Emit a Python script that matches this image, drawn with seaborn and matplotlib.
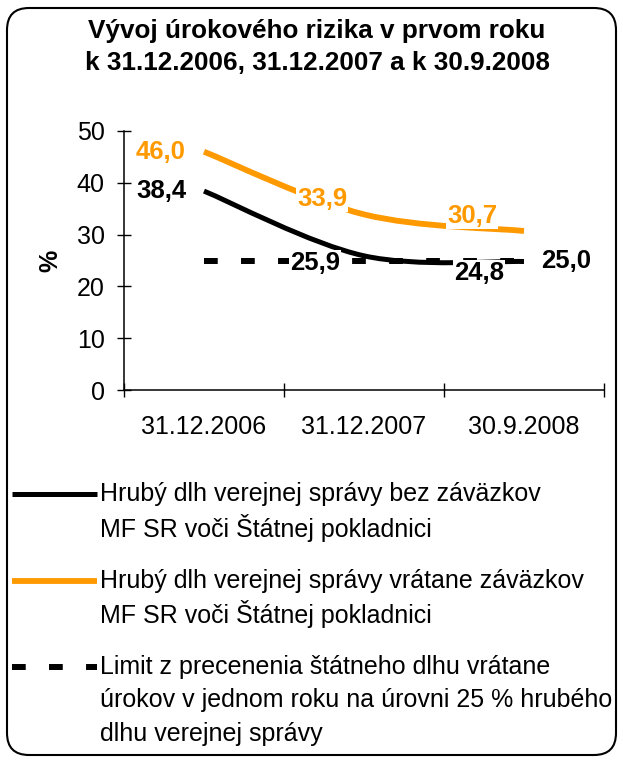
#!/usr/bin/python

# System imports
import numpy as np
import pandas as pd
import seaborn as sns
import matplotlib
matplotlib.use('Agg')
import matplotlib.pyplot as plt
from matplotlib.path import Path
from matplotlib.patches import PathPatch, FancyBboxPatch
from matplotlib.lines import Line2D

# Data
DATES = ['31.12.2006', '31.12.2007', '30.9.2008']
DEBT_EXCL = [38.4, 25.9, 24.8]
DEBT_INCL = [46.0, 33.9, 30.7]
LIMIT = [25.0, 25.0, 25.0]

TITLE = 'Vývoj úrokového rizika v prvom roku\nk 31.12.2006, 31.12.2007 a k 30.9.2008'
LEGEND_EXCL = ['Hrubý dlh verejnej správy bez záväzkov', 'MF SR voči Štátnej pokladnici']
LEGEND_INCL = ['Hrubý dlh verejnej správy vrátane záväzkov', 'MF SR voči Štátnej pokladnici']
LEGEND_LIMIT = ['Limit z precenenia štátneho dlhu vrátane',
                'úrokov v jednom roku na úrovni 25 % hrubého',
                'dlhu verejnej správy']

ORANGE = '#FF9900'
BLACK = '#000000'

W, H = 623, 762

# label offsets (pixels) for each point
OFF_EXCL = [(-18, 0), (-24, -7), (-20, -11)]
OFF_INCL = [(-18, 0), (-17, 15), (-27, 15)]
OFF_LIMIT = (17, 0)
DASHES = [2.3, 3.9]


def fx(px):
    return px / W


def fy(py):
    return 1.0 - py / H


def smooth_path(xs, ys):
    """Excel-like smoothed line as a cubic bezier path through the points."""
    pts = np.column_stack([xs, ys]).astype(float)
    n = len(pts)
    verts = [pts[0]]
    codes = [Path.MOVETO]
    for i in range(n - 1):
        p_prev = pts[max(i - 1, 0)]
        p0 = pts[i]
        p1 = pts[i + 1]
        p_next = pts[min(i + 2, n - 1)]
        verts += [p0 + (p1 - p_prev) / 6.0, p1 - (p_next - p0) / 6.0, p1]
        codes += [Path.CURVE4] * 3
    return Path(verts, codes)


def fmt(v):
    return ('%.1f' % v).replace('.', ',')


sns.set_style('white')
plt.rcParams['font.family'] = ['Liberation Sans', 'DejaVu Sans']
plt.rcParams['text.color'] = BLACK
plt.rcParams['axes.labelcolor'] = BLACK
plt.rcParams['xtick.color'] = BLACK
plt.rcParams['ytick.color'] = BLACK

fig = plt.figure(figsize=(W / 100.0, H / 100.0), dpi=100)
ax = fig.add_axes([fx(124), fy(390), fx(604) - fx(124), fy(131) - fy(390)])

x = np.arange(len(DATES))

# Limit line
df = pd.DataFrame({'x': x, 'limit': LIMIT})
sns.lineplot(data=df, x='x', y='limit', ax=ax, color=BLACK, lw=4.3, zorder=2)
ax.lines[-1].set_dashes(DASHES)
ax.lines[-1].set_dash_capstyle('butt')

# Smoothed series
ax.add_patch(PathPatch(smooth_path(x, DEBT_EXCL), fill=False, ec=BLACK, lw=3.6,
                       capstyle='butt', zorder=3))
ax.add_patch(PathPatch(smooth_path(x, DEBT_INCL), fill=False, ec=ORANGE, lw=4.2,
                       capstyle='butt', zorder=4))

# Data labels
bbox = dict(fc='white', ec='none', pad=0.5)
for i, v in enumerate(DEBT_EXCL):
    ax.annotate(fmt(v), xy=(x[i], v), xytext=OFF_EXCL[i], textcoords='offset pixels',
                ha='right', va='center', fontsize=18.5, fontweight='bold', color=BLACK,
                bbox=bbox, zorder=6)
for i, v in enumerate(DEBT_INCL):
    ax.annotate(fmt(v), xy=(x[i], v), xytext=OFF_INCL[i], textcoords='offset pixels',
                ha='right', va='center', fontsize=18.5, fontweight='bold', color=ORANGE,
                bbox=bbox, zorder=6)
ax.annotate(fmt(LIMIT[-1]), xy=(x[-1], LIMIT[-1]), xytext=OFF_LIMIT, textcoords='offset pixels',
            ha='left', va='center', fontsize=18.5, fontweight='bold', color=BLACK, zorder=6)

# Axes
ax.set_xlim(-0.5, len(DATES) - 0.5)
ax.set_ylim(0, 50)
ax.set_yticks(np.arange(0, 51, 10))
ax.set_xticks(np.arange(-0.5, len(DATES), 1.0))
ax.set_xticklabels([])
ax.set_xticks(x, minor=True)
ax.set_xticklabels(DATES, minor=True)
ax.tick_params(axis='both', which='major', direction='inout', length=10, width=1.0,
               color=BLACK, labelsize=18, labelcolor=BLACK, left=True, bottom=True)
ax.tick_params(axis='y', pad=9)
ax.tick_params(axis='x', which='minor', length=0, pad=18, labelsize=18,
               labelcolor=BLACK, bottom=True)
ax.set_xlabel('')
ax.set_ylabel('%', fontsize=18, fontweight='bold', labelpad=10)
for s in ['top', 'right']:
    ax.spines[s].set_visible(False)
for s in ['left', 'bottom']:
    ax.spines[s].set_color(BLACK)
    ax.spines[s].set_linewidth(1.1)
ax.patch.set_alpha(0)

# Title
fig.text(fx(317), fy(47), TITLE, ha='center', va='center', fontsize=18.8,
         fontweight='bold', linespacing=1.4)

# Legend (drawn by hand, handle on first text line)
entries = [
    (LEGEND_EXCL, 494, BLACK, 3.6, None),
    (LEGEND_INCL, 581, ORANGE, 4.2, None),
    (LEGEND_LIMIT, 667, BLACK, 4.3, DASHES),
]
for lines, y0, color, lw, dashes in entries:
    ln = Line2D([fx(12), fx(97)], [fy(y0), fy(y0)], transform=fig.transFigure,
                color=color, lw=lw, solid_capstyle='butt', dash_capstyle='butt')
    if dashes:
        ln.set_dashes(dashes)
    fig.add_artist(ln)
    for k, t in enumerate(lines):
        fig.text(fx(100), fy(y0 + 33.5 * k), t, ha='left', va='center', fontsize=18.0)

# Border
fig.add_artist(FancyBboxPatch((0.07, 0.07), 6.09, 7.47,
                              boxstyle='round,pad=0,rounding_size=0.22',
                              transform=fig.dpi_scale_trans, fill=False,
                              ec=BLACK, lw=1.5))

fig.savefig('out.png', dpi=100)
plt.close()
